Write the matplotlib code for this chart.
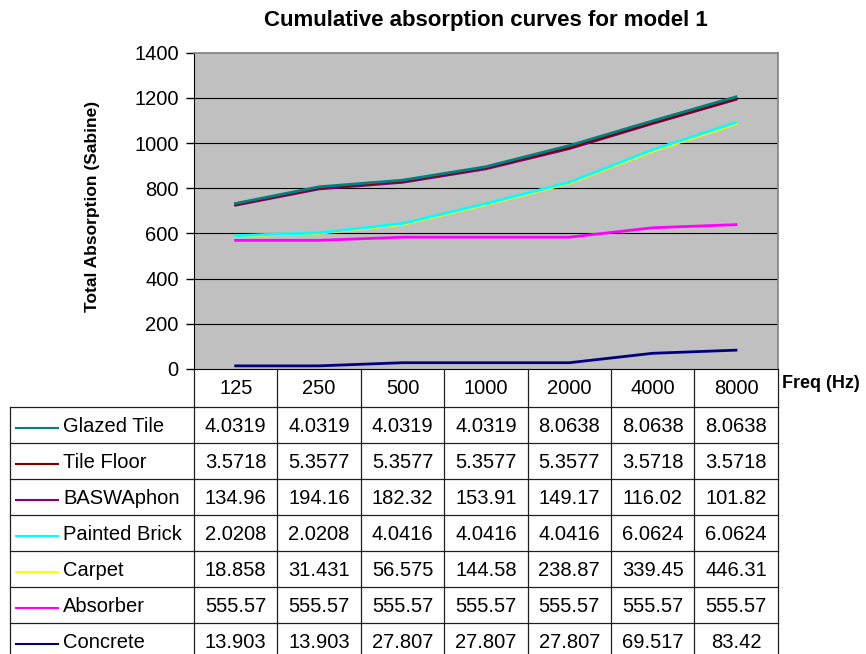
import matplotlib
matplotlib.use("Agg")
import matplotlib.pyplot as plt
import numpy as np
from matplotlib.transforms import blended_transform_factory

plt.rcParams['font.family'] = ['Liberation Sans', 'DejaVu Sans']

freqs = ["125", "250", "500", "1000", "2000", "4000", "8000"]
series_names = ["Glazed Tile", "Tile Floor", "BASWAphon", "Painted Brick",
                "Carpet", "Absorber", "Concrete"]
glazed_tile = [4.0319, 4.0319, 4.0319, 4.0319, 8.0638, 8.0638, 8.0638]
tile_floor = [3.5718, 5.3577, 5.3577, 5.3577, 5.3577, 3.5718, 3.5718]
baswaphon = [134.96, 194.16, 182.32, 153.91, 149.17, 116.02, 101.82]
painted_brick = [2.0208, 2.0208, 4.0416, 4.0416, 4.0416, 6.0624, 6.0624]
carpet = [18.858, 31.431, 56.575, 144.58, 238.87, 339.45, 446.31]
absorber = [555.57, 555.57, 555.57, 555.57, 555.57, 555.57, 555.57]
concrete = [13.903, 13.903, 27.807, 27.807, 27.807, 69.517, 83.42]
series_values = [glazed_tile, tile_floor, baswaphon, painted_brick,
                 carpet, absorber, concrete]
series_labels_text = [["4.0319", "4.0319", "4.0319", "4.0319", "8.0638", "8.0638", "8.0638"],
                      ["3.5718", "5.3577", "5.3577", "5.3577", "5.3577", "3.5718", "3.5718"],
                      ["134.96", "194.16", "182.32", "153.91", "149.17", "116.02", "101.82"],
                      ["2.0208", "2.0208", "4.0416", "4.0416", "4.0416", "6.0624", "6.0624"],
                      ["18.858", "31.431", "56.575", "144.58", "238.87", "339.45", "446.31"],
                      ["555.57", "555.57", "555.57", "555.57", "555.57", "555.57", "555.57"],
                      ["13.903", "13.903", "27.807", "27.807", "27.807", "69.517", "83.42"]]
colors = ["#008080", "#800000", "#800080", "#00FFFF", "#FFFF00", "#FF00FF", "#000080"]
yticks = [0, 200, 400, 600, 800, 1000, 1200, 1400]

W, H = 866, 654
fig = plt.figure(figsize=(W / 100, H / 100), dpi=100)
fig.patch.set_facecolor("white")

L, R, T, B = 194, 777.7, 52.7, 369
ax = fig.add_axes([L / W, 1 - B / H, (R - L) / W, (B - T) / H])
ax.set_facecolor("#C0C0C0")
x = np.arange(len(freqs))
ax.set_xlim(-0.5, len(freqs) - 0.5)
ax.set_ylim(0, 1400)
ax.set_yticks(yticks)
ax.set_yticklabels([str(v) for v in yticks], fontsize=14.5)
ax.tick_params(axis='y', length=6, width=1, direction='out', pad=5)
ax.set_xticks([])
for yv in yticks[1:-1]:
    ax.axhline(yv, color="black", lw=0.8, zorder=1)
for s in ["top", "right"]:
    ax.spines[s].set_color("#808080")
    ax.spines[s].set_linewidth(1.2)
ax.spines["left"].set_color("black")
ax.spines["bottom"].set_color("black")

# stacked (cumulative) lines: Concrete at bottom, Glazed Tile on top
cum = np.zeros(len(freqs))
order = list(range(len(series_names)))[::-1]
cums = {}
for i in order:
    cum = cum + np.array(series_values[i])
    cums[i] = cum.copy()
for i in order:
    ax.plot(x, cums[i], color=colors[i], lw=2.0, zorder=3 + (len(order) - i))

ax.set_title("Cumulative absorption curves for model 1", fontsize=16,
             fontweight="bold", pad=19)
fig.text(93 / W, 1 - 206 / H, "Total Absorption (Sabine)", rotation=90,
         fontsize=12.5, fontweight="bold", ha="center", va="center")
fig.text(782 / W, 1 - 383 / H, "Freq (Hz)", fontsize=13, fontweight="bold",
         ha="left", va="center")

# data table
ov = fig.add_axes([0, 0, 1, 1], zorder=5)
ov.set_xlim(0, W)
ov.set_ylim(H, 0)
ov.axis("off")
bt = blended_transform_factory(ax.transData, ov.transData)

header_top, header_bot = B, 407
row_h = 36.05
nrows = len(series_names)
bottom = header_bot + row_h * nrows
lc = "#202020"
for k in range(len(freqs) + 1):
    ov.plot([k - 0.5, k - 0.5], [header_top, bottom], color=lc, lw=0.9,
            transform=bt, clip_on=False)
ov.plot([10, 10], [header_bot, bottom], color=lc, lw=0.9, clip_on=False)
for r in range(nrows + 1):
    yy = header_bot + r * row_h
    ov.plot([10, R], [yy, yy], color=lc, lw=0.9, clip_on=False)

for j, f in enumerate(freqs):
    ov.text(j, (header_top + header_bot) / 2 + 1, f, transform=bt, fontsize=14.5,
            ha="center", va="center")
for r in range(nrows):
    yc = header_bot + (r + 0.5) * row_h
    ov.plot([16, 58], [yc + 3, yc + 3], color=colors[r], lw=1.5)
    ov.text(63, yc + 1, series_names[r], fontsize=14.5, ha="left", va="center")
    for j in range(len(freqs)):
        ov.text(j, yc + 1, series_labels_text[r][j], transform=bt, fontsize=14.5,
                ha="center", va="center")

fig.savefig("out.png", dpi=100)
